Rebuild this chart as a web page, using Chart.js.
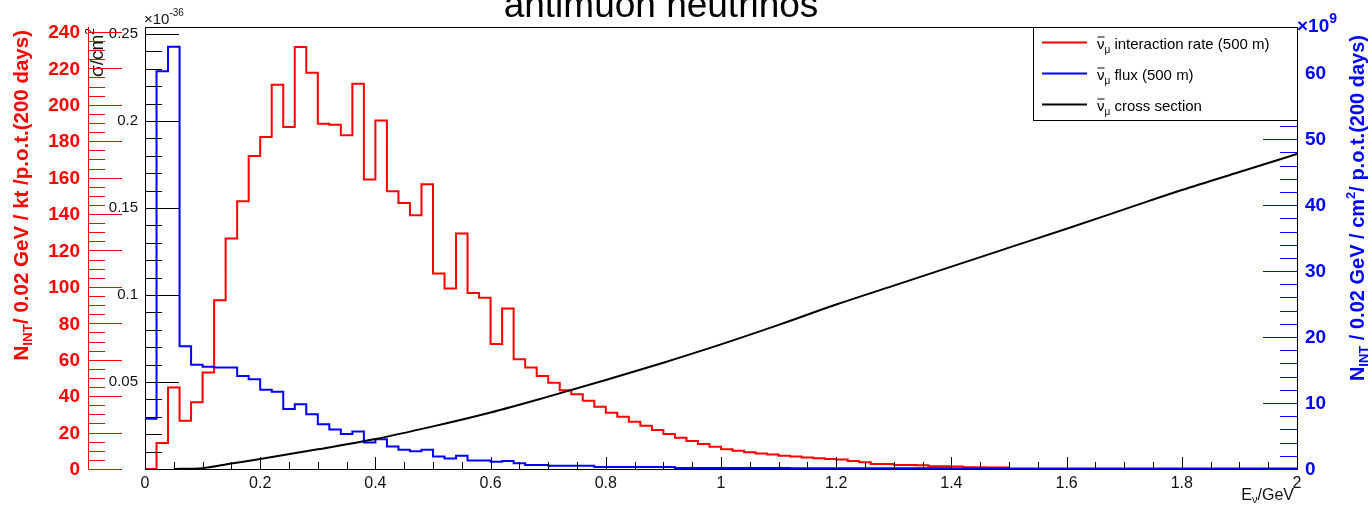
<!DOCTYPE html>
<html>
<head>
<meta charset="utf-8">
<script src="https://cdn.jsdelivr.net/npm/chart.js@4.4.0/dist/chart.umd.min.js"></script>
<style>
  html, body { margin: 0; padding: 0; background: #fff; }
  canvas { display: block; }
</style>
</head>
<body>
<canvas id="c" width="1369" height="509"></canvas>
<script>
// Energy binning of the histograms (GeV)
const binWidth = 0.02;

// Interaction rate per 0.02 GeV bin, 0-2 GeV (events / kt / p.o.t., 200 days)
const rateValues = [
  0, 14.3, 44.8, 26.5, 36.6, 53.0, 92.7, 126.5, 147.0, 171.9,
  182.3, 211.0, 187.8, 231.7, 217.6, 189.6, 189.0, 183.2, 211.6, 159.0,
  191.4, 152.5, 146.0, 139.3, 156.3, 107.3, 99.1, 129.3, 96.7, 94.0,
  68.6, 88.1, 60.3, 55.8, 51.0, 47.4, 43.3, 41.0, 37.5, 34.2,
  30.9, 28.7, 26.0, 23.8, 21.4, 19.2, 17.2, 15.4, 13.7, 12.2,
  10.8, 10.0, 9.2, 8.5, 7.9, 7.3, 6.8, 6.3, 5.9, 5.5,
  5.2, 4.4, 3.7, 2.8, 2.7, 2.2, 2.2, 2.1, 1.5, 1.5,
  1.4, 0.9, 0.9, 0.8, 0.8, 0, 0, 0, 0, 0,
  0, 0, 0, 0, 0, 0, 0, 0, 0, 0,
  0, 0, 0, 0, 0, 0, 0, 0, 0, 0
];

// Flux per 0.02 GeV bin, 0-2 GeV (x 10^9 / cm^2 / p.o.t., 200 days)
const fluxValues = [
  7.6, 60.3, 64.0, 18.6, 15.8, 15.5, 15.4, 15.4, 14.1, 13.6,
  12.0, 11.7, 9.1, 9.8, 8.3, 6.8, 6.0, 5.3, 5.7, 4.0,
  4.5, 3.4, 2.9, 2.7, 2.9, 1.9, 1.6, 2.0, 1.3, 1.3,
  1.1, 1.2, 0.86, 0.6, 0.6, 0.5, 0.5, 0.5, 0.5, 0.3,
  0.3, 0.3, 0.3, 0.3, 0.3, 0.3, 0.15, 0.15, 0.15, 0.15,
  0.15, 0.15, 0.15, 0.15, 0.15, 0.15, 0.1, 0.1, 0.1, 0.1,
  0.1, 0.1, 0.1, 0.1, 0.1, 0.1, 0.1, 0.1, 0.1, 0.1,
  0.08, 0.08, 0.08, 0.08, 0.08, 0.08, 0.08, 0.08, 0.08, 0.08,
  0.08, 0.08, 0.08, 0.08, 0.08, 0.08, 0.08, 0.08, 0.08, 0.08,
  0.08, 0.08, 0.08, 0.08, 0.08, 0.08, 0.08, 0.08, 0.08, 0.08
];

// Cross section (x 10^-36 cm^2) versus neutrino energy (GeV)
const xsecEnergy = [0.05, 0.1, 0.15, 0.2, 0.3, 0.4, 0.5, 0.6, 0.7, 0.8, 0.9, 1.0,
                    1.1, 1.2, 1.3, 1.4, 1.5, 1.6, 1.7, 1.8, 1.9, 2.0];
const xsecValues = [0, 0.0005, 0.0032, 0.0057, 0.0113, 0.0172, 0.0245, 0.0325, 0.0416, 0.0511, 0.0611, 0.0716,
                    0.0828, 0.0945, 0.1054, 0.1163, 0.1272, 0.1381, 0.1492, 0.1603, 0.1707, 0.1810];

// Axis ranges and labelled ticks
const xRange = [0, 2];
const rateRange = [0, 242.7];
const xsecRange = [0, 0.254];
const fluxRange = [0, 67.0];

const xTickValues = [0, 0.2, 0.4, 0.6, 0.8, 1, 1.2, 1.4, 1.6, 1.8, 2];
const xTickLabels = ['0', '0.2', '0.4', '0.6', '0.8', '1', '1.2', '1.4', '1.6', '1.8', '2'];
const rateTickValues = [0, 20, 40, 60, 80, 100, 120, 140, 160, 180, 200, 220, 240];
const rateTickLabels = ['0', '20', '40', '60', '80', '100', '120', '140', '160', '180', '200', '220', '240'];
const xsecTickValues = [0.05, 0.1, 0.15, 0.2, 0.25];
const xsecTickLabels = ['0.05', '0.1', '0.15', '0.2', '0.25'];
const fluxTickValues = [0, 10, 20, 30, 40, 50, 60];
const fluxTickLabels = ['0', '10', '20', '30', '40', '50', '60'];

const seriesNames = ['interaction rate (500 m)', 'flux (500 m)', 'cross section'];
const titleText = 'antimuon neutrinos';

const RED = '#ff0000', BLUE = '#0000ff', INK = '#000000';
const FONT = '"Liberation Sans", Arial, Helvetica, sans-serif';
const RATE_AXIS_X = 88;

// histogram outline points: one point per lower bin edge plus the closing edge
function histPoints(vals) {
  const pts = vals.map((v, i) => ({ x: +(i * binWidth).toFixed(2), y: v }));
  pts.push({ x: +(vals.length * binWidth).toFixed(2), y: vals[vals.length - 1] });
  return pts;
}

function setFont(ctx, px, bold) {
  ctx.font = (bold ? 'bold ' : '') + px + 'px ' + FONT;
}

// text made of runs with their own size / vertical shift / overline
function richText(ctx, parts, x, y, align) {
  let w = 0;
  parts.forEach(p => { setFont(ctx, p.px, p.bold); p.w = ctx.measureText(p.t).width; w += p.w; });
  let cx = align === 'right' ? x - w : align === 'center' ? x - w / 2 : x;
  ctx.textAlign = 'left';
  ctx.textBaseline = 'alphabetic';
  parts.forEach(p => {
    setFont(ctx, p.px, p.bold);
    ctx.fillText(p.t, cx, y + (p.dy || 0));
    if (p.overline) ctx.fillRect(cx + 0.5, y - p.overline, p.w - 0.5, 1);
    cx += p.w;
  });
}

function hline(ctx, x0, x1, y) {
  const yy = Math.round(y) + 0.5;
  ctx.beginPath(); ctx.moveTo(x0, yy); ctx.lineTo(x1, yy); ctx.stroke();
}
function vline(ctx, x, y0, y1) {
  const xx = Math.round(x) + 0.5;
  ctx.beginPath(); ctx.moveTo(xx, y0); ctx.lineTo(xx, y1); ctx.stroke();
}

const rootStyle = {
  id: 'rootStyle',
  beforeDatasetsDraw(chart) {
    const { ctx, chartArea: a } = chart;
    ctx.save();
    ctx.fillStyle = '#fff';
    ctx.fillRect(0, 0, chart.width, chart.height);
    ctx.strokeStyle = INK;
    ctx.lineWidth = 1;
    ctx.strokeRect(a.left + 0.5, a.top + 0.5, a.right - a.left, a.bottom - a.top);
    ctx.restore();
  },
  afterDatasetsDraw(chart) {
    const { ctx, chartArea: a, scales } = chart;
    const xs = scales.x, yR = scales.yR, yS = scales.yS, yB = scales.yB;
    ctx.save();
    ctx.lineWidth = 1;

    // energy axis: ticks pointing up into the frame
    ctx.strokeStyle = INK;
    for (let i = 0; i <= 40; i++) {
      const px = xs.getPixelForValue(i * 0.05);
      vline(ctx, px, a.bottom + 1, a.bottom - (i % 4 === 0 ? 12 : 7));
    }
    ctx.fillStyle = '#111';
    setFont(ctx, 16, false);
    ctx.textAlign = 'center';
    ctx.textBaseline = 'alphabetic';
    xTickValues.forEach((v, i) => ctx.fillText(xTickLabels[i], xs.getPixelForValue(v), a.bottom + 19));
    richText(ctx, [
      { t: 'E', px: 16 }, { t: 'ν', px: 11, dy: 3 }, { t: '/GeV', px: 16 }
    ], a.right - 3, a.bottom + 31, 'right');

    // cross-section axis on the frame edge
    ctx.strokeStyle = INK;
    for (let i = 0; i <= 25; i++) {
      const py = yS.getPixelForValue(i * 0.01);
      hline(ctx, a.left, a.left + (i % 5 === 0 ? 34 : 17), py);
    }
    ctx.fillStyle = '#111';
    setFont(ctx, 15, false);
    ctx.textAlign = 'right';
    ctx.textBaseline = 'middle';
    xsecTickValues.forEach((v, i) => ctx.fillText(xsecTickLabels[i], a.left - 7, yS.getPixelForValue(v)));
    richText(ctx, [{ t: '×10', px: 15 }, { t: '-36', px: 10, dy: -8 }], a.left - 1, a.top - 3, 'left');
    ctx.save();
    ctx.translate(a.left - 42, a.top + 1);
    ctx.rotate(-Math.PI / 2);
    richText(ctx, [{ t: 'σ/cm', px: 19 }, { t: '2', px: 12, dy: -9 }], 0, 0, 'right');
    ctx.restore();

    // interaction-rate axis, detached to the left
    ctx.strokeStyle = RED;
    vline(ctx, RATE_AXIS_X, a.top, a.bottom + 0.5);
    for (let i = 0; i * 5 <= rateRange[1]; i++) {
      const py = yR.getPixelForValue(i * 5);
      hline(ctx, RATE_AXIS_X, RATE_AXIS_X + (i % 4 === 0 ? 34 : 17), py);
    }
    ctx.fillStyle = RED;
    setFont(ctx, 19, true);
    ctx.textAlign = 'right';
    ctx.textBaseline = 'middle';
    rateTickValues.forEach((v, i) => ctx.fillText(rateTickLabels[i], RATE_AXIS_X - 8, yR.getPixelForValue(v) + 1));
    ctx.save();
    ctx.translate(28, 30);
    ctx.rotate(-Math.PI / 2);
    richText(ctx, [
      { t: 'N', px: 20.5, bold: true }, { t: 'INT', px: 13.5, bold: true, dy: 4 },
      { t: '/ 0.02 GeV / kt /p.o.t.(200 days)', px: 20.5, bold: true }
    ], 0, 0, 'right');
    ctx.restore();

    // flux axis on the right frame edge, ticks pointing inwards
    ctx.strokeStyle = BLUE;
    for (let i = 0; i * 2 <= fluxRange[1]; i++) {
      const py = yB.getPixelForValue(i * 2);
      hline(ctx, a.right - (i % 5 === 0 ? 34 : 17), a.right, py);
    }
    ctx.fillStyle = BLUE;
    setFont(ctx, 19, true);
    ctx.textAlign = 'left';
    ctx.textBaseline = 'middle';
    fluxTickValues.forEach((v, i) => ctx.fillText(fluxTickLabels[i], a.right + 8, yB.getPixelForValue(v) + 1));
    richText(ctx, [{ t: '×10', px: 19, bold: true }, { t: '9', px: 14, bold: true, dy: -9 }], a.right, a.top + 5, 'left');
    ctx.save();
    ctx.translate(1364, 35);
    ctx.rotate(-Math.PI / 2);
    richText(ctx, [
      { t: 'N', px: 20, bold: true }, { t: 'INT', px: 13, bold: true, dy: 4 },
      { t: ' / 0.02 GeV / cm', px: 20, bold: true }, { t: '2', px: 13, bold: true, dy: -9 },
      { t: '/ p.o.t.(200 days)', px: 20, bold: true }
    ], 0, 0, 'right');
    ctx.restore();

    ctx.restore();
  },
  afterDraw(chart) {
    const { ctx, chartArea: a } = chart;
    ctx.save();
    // title
    ctx.fillStyle = INK;
    setFont(ctx, 37, false);
    ctx.textAlign = 'center';
    ctx.textBaseline = 'alphabetic';
    ctx.fillText(titleText, 661, 17);

    // legend box in the upper right corner of the frame
    const bx = 1033, by = a.top, bw = a.right - bx, bh = 93;
    ctx.fillStyle = '#fff';
    ctx.fillRect(bx, by, bw, bh);
    ctx.strokeStyle = INK;
    ctx.lineWidth = 1;
    ctx.strokeRect(bx + 0.5, by + 0.5, bw, bh);
    const colors = [RED, BLUE, INK];
    seriesNames.forEach((name, i) => {
      const ly = by + 15.5 + i * 31;
      ctx.strokeStyle = colors[i];
      ctx.lineWidth = 2;
      ctx.beginPath(); ctx.moveTo(bx + 9, ly); ctx.lineTo(bx + 54, ly); ctx.stroke();
      ctx.fillStyle = INK;
      richText(ctx, [
        { t: 'ν', px: 15, overline: 12 }, { t: 'μ', px: 10, dy: 4 }, { t: ' ' + name, px: 15 }
      ], bx + 64, ly + 6, 'left');
    });
    ctx.restore();
  }
};

const lineBase = { pointRadius: 0, fill: false, borderJoinStyle: 'miter', borderCapStyle: 'butt', tension: 0 };

new Chart(document.getElementById('c'), {
  type: 'line',
  data: {
    datasets: [
      Object.assign({ label: seriesNames[2], data: xsecEnergy.map((e, i) => ({ x: e, y: xsecValues[i] })),
        yAxisID: 'yS', borderColor: INK, borderWidth: 2, cubicInterpolationMode: 'monotone', tension: 0.4, order: 0 }, { pointRadius: 0, fill: false }),
      Object.assign({ label: seriesNames[1], data: histPoints(fluxValues), yAxisID: 'yB',
        borderColor: BLUE, borderWidth: 2, stepped: 'before', order: 1 }, lineBase),
      Object.assign({ label: seriesNames[0], data: histPoints(rateValues), yAxisID: 'yR',
        borderColor: RED, borderWidth: 2, stepped: 'before', order: 2 }, lineBase)
    ]
  },
  options: {
    responsive: false,
    animation: false,
    devicePixelRatio: 1,
    layout: { padding: { left: 145, right: 72, top: 27, bottom: 40 } },
    plugins: { legend: { display: false }, tooltip: { enabled: false }, title: { display: false } },
    scales: {
      x: { type: 'linear', min: xRange[0], max: xRange[1], display: false },
      yR: { type: 'linear', position: 'left', min: rateRange[0], max: rateRange[1], display: false },
      yS: { type: 'linear', position: 'left', min: xsecRange[0], max: xsecRange[1], display: false },
      yB: { type: 'linear', position: 'right', min: fluxRange[0], max: fluxRange[1], display: false }
    }
  },
  plugins: [rootStyle]
});
</script>
</body>
</html>
